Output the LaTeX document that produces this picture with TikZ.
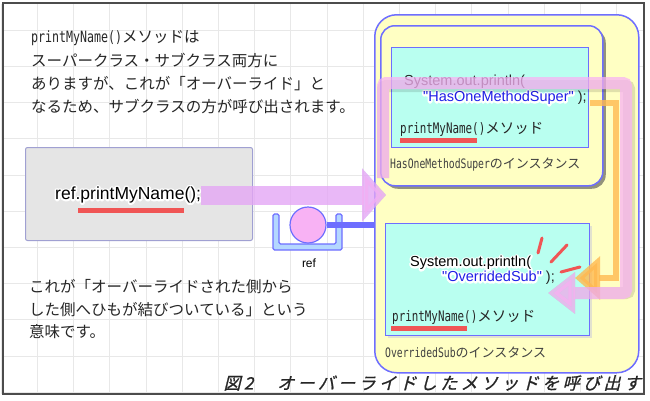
\documentclass[tikz,border=0pt]{standalone}
\usepackage{fontspec}
\usetikzlibrary{arrows.meta,shadows}
\setmainfont{Noto Sans CJK JP}
\newfontfamily\codefont{Liberation Sans}
\newfontfamily\hwfont[FakeStretch=0.75]{DejaVu Sans Mono}
\newfontfamily\capfont[FakeSlant=0.25,FakeBold=1,LetterSpace=20]{Noto Sans CJK JP}
\newcommand\fsz[1]{\fontsize{#1}{#1}\selectfont}
\newcommand\halo[1]{\leavevmode\rlap{\special{pdf:code q}{\color{white}\special{pdf:code 2 Tr 3.6 w 1 J 1 j}#1}\special{pdf:code Q}}#1}
\definecolor{pinkband}{RGB}{248,178,244}
\definecolor{boxblue}{RGB}{110,110,255}
\definecolor{objyellow}{RGB}{255,255,195}
\definecolor{boxcyan}{RGB}{185,255,240}
\definecolor{markred}{RGB}{240,85,85}
\definecolor{strblue}{RGB}{30,30,230}
\definecolor{cupblue}{RGB}{180,215,255}
\definecolor{argorange}{RGB}{255,185,80}

\begin{document}
\begin{tikzpicture}[x=1pt,y=-1pt,
    txt/.style={anchor=west, inner sep=0pt, text=black!85},
    note/.style={txt, font=\fsz{15.5}},
    code/.style={txt, font=\codefont\fsz{14.5}},
    objbox/.style={draw=boxblue, line width=1.5pt, anchor=north west, inner sep=0pt},
    codebox/.style={objbox, fill=boxcyan, line width=1.2pt},
    marker/.style={markred, line width=5pt},
    gridline/.style={black!9, line width=0.6pt},
    band/.style={line width=12pt, draw=pinkband, opacity=0.75, rounded corners=3pt, -{Triangle[width=40pt,length=27pt]}},
    bigarrow/.style={line width=19pt, draw=pinkband, opacity=0.7, -{Triangle[width=52pt,length=24pt]}}]
  \useasboundingbox (0,0) rectangle (650,400);
  \fill[white] (0,0) rectangle (650,400);
  \foreach \i in {0,...,17} \draw[gridline] (1+36.2*\i,4) -- ++(0,390);
  \foreach \j in {0,...,10} \draw[gridline] (4,30+36.2*\j) -- ++(640,0);

  \node[note] (note1) at (31,38) {{\hwfont printMyName()}メソッドは};
  \node[note] (note2) at (31,61) {スーパークラス・サブクラス両方に};
  \node[note] (note3) at (31,84) {ありますが、これが「オーバーライド」と};
  \node[note] (note4) at (31,107) {なるため、サブクラスの方が呼び出されます。};
  \node[note] (note5) at (29,287) {これが「オーバーライドされた側から};
  \node[note] (note6) at (29,310) {した側へひもが結びついている」という};
  \node[note] (note7) at (29,332) {意味です。};

  \node[objbox, draw={rgb,255:red,160;green,160;blue,210}, fill=black!10, line width=1pt,
    rounded corners=2pt, minimum width=227, minimum height=93] (callbox) at (25,147) {};
  \node[code, font=\codefont\fsz{17.5}, text=black] (refcall) at (55,195) {\halo{ref.printMyName();}};
  \draw[marker] (78,210) -- (184,210);

  \node[objbox, fill=objyellow, rounded corners=22pt, minimum width=264, minimum height=358] (subobj) at (374,14) {};
  \node[objbox, fill=objyellow, rounded corners=14pt, minimum width=222, minimum height=160,
    drop shadow={shadow xshift=3pt, shadow yshift=-3pt, fill=black!70, opacity=0.6}] (superobj) at (380,25) {};
  \node[codebox, minimum width=197, minimum height=100] (supercode) at (391,47) {};
  \node[code] (superprint) at (404,82) {System.out.println(};
  \node[code] (superstr) at (423,98) {{\color{strblue}\halo{"HasOneMethodSuper"}} );};
  \node[txt, font=\fsz{14.5}] (supermethod) at (400,129) {{\hwfont printMyName()}メソッド};
  \draw[marker] (400,140) -- (477,140);
  \node[txt, font=\fsz{13}, text=black!75] (superlabel) at (390,165) {{\hwfont HasOneMethodSuper}のインスタンス};

  \node[codebox, minimum width=204, minimum height=112,
    drop shadow={shadow xshift=2pt, shadow yshift=-2pt, fill=boxblue, opacity=0.2}] (subcode) at (385,223) {};
  \node[code, text=black] (subprint) at (410,263) {\halo{System.out.println(}};
  \node[code] (substr) at (442,278) {{\color{strblue}\halo{"OverridedSub"}} );};
  \node[txt, font=\fsz{14.5}] (submethod) at (392,317) {{\hwfont printMyName()}メソッド};
  \draw[marker] (391,328) -- (467,328);
  \node[txt, font=\fsz{13}, text=black!75] (sublabel) at (385,352) {{\hwfont OverridedSub}のインスタンス};
  \draw[markred, line width=3pt, line cap=round] (542,238) -- (538,253) (567,245) -- (551,262) (580,267) -- (561,272);

  \draw[fill=cupblue, draw=boxblue, line width=1.2pt, rounded corners=1.5pt]
    (273,214) -- (273,250) -- (342,250) -- (342,214) -- (336,214) -- (336,244) -- (279,244) -- (279,214) -- cycle;
  \node[circle, draw=boxblue, fill=pinkband, line width=1.2pt, minimum size=36, inner sep=0pt] (refvar) at (308,225) {};
  \draw[boxblue, line width=6pt] (refvar.east) -- (refvar.east -| subobj.west);
  \node[font=\codefont\fsz{12}, inner sep=0pt] (reflabel) at (309,263) {ref};

  \coordinate (loopin) at (383,178);
  \coordinate (loopend) at (548,293);
  \draw[line width=6pt, draw=argorange, opacity=0.8, -{Triangle[width=42pt,length=25pt]}]
    (590,103) -| (616,278) -- (575,278);
  \draw[band, draw=black, opacity=0.12, shift={(3,3)}] (loopin) |- (626,83) |- (loopend);
  \draw[band] (loopin) |- (626,83) |- (loopend);
  \draw[bigarrow, draw=blue!70, opacity=0.3, shift={(1,3)}] (refcall.east) -- ([xshift=6pt]refcall.east -| superobj.west);
  \draw[bigarrow] (refcall.east) -- ([xshift=6pt]refcall.east -| superobj.west);

  \node[anchor=east, inner sep=0pt, font=\capfont\fsz{17}, text=black!85] (caption) at (641,383) {図2　オーバーライドしたメソッドを呼び出す};
  \draw[black!70, line width=2.5pt] (3,3) rectangle (644,394);
\end{tikzpicture}
\end{document}
